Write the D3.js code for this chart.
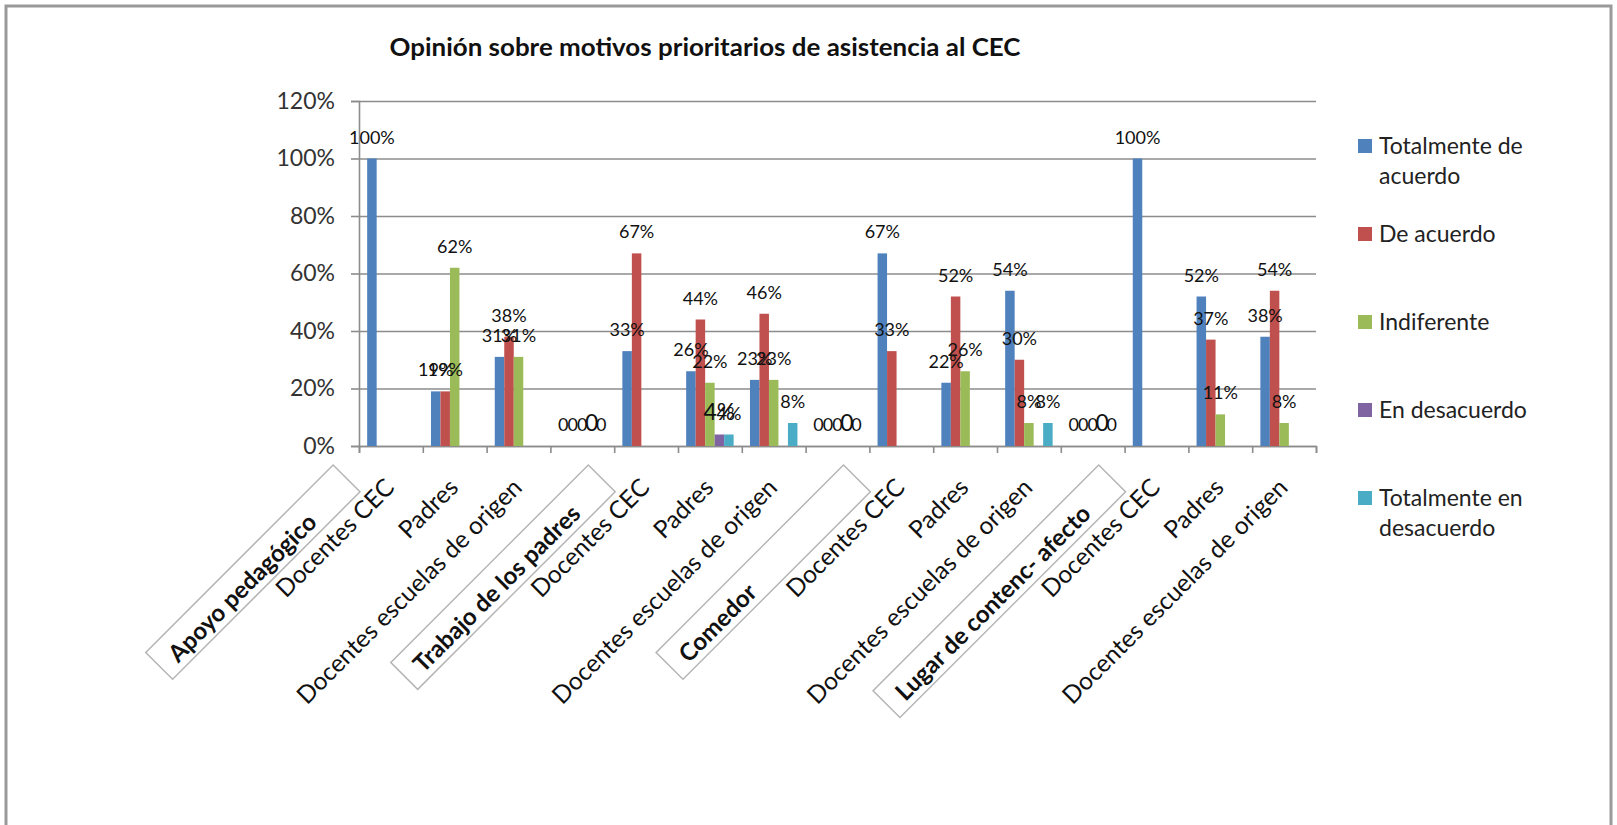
<!DOCTYPE html>
<html>
<head>
<meta charset="utf-8">
<script src="https://cdn.jsdelivr.net/npm/d3@7"></script>
<style>
  body { margin: 0; background: #fff; }
  text { font-family: Lato, "Open Sans", sans-serif; }
</style>
</head>
<body>
<div id="chart"></div>
<script>
// Chart data
const title = "Opinión sobre motivos prioritarios de asistencia al CEC";
const leadHeader = "Apoyo pedagógico";
const categories = [
    "Docentes CEC", "Padres", "Docentes escuelas de origen",
    "Trabajo de los padres",
    "Docentes CEC", "Padres", "Docentes escuelas de origen",
    "Comedor",
    "Docentes CEC", "Padres", "Docentes escuelas de origen",
    "Lugar de contenc- afecto",
    "Docentes CEC", "Padres", "Docentes escuelas de origen"
];
const isHeader = [false, false, false, true, false, false, false, true, false, false, false, true, false, false, false];

const seriesNames = ["Totalmente de acuerdo", "De acuerdo", "Indiferente", "En desacuerdo", "Totalmente en desacuerdo"];
const seriesColors = ["#4F81BD", "#C0504D", "#9BBB59", "#8064A2", "#4BACC6"];

// values in %, null = no bar / no label
const totalmenteAcuerdo   = [100, 19, 31, 0, 33, 26, 23, 0, 67, 22, 54, 0, 100, 52, 38];
const deAcuerdo           = [null, 19, 38, 0, 67, 44, 46, 0, 33, 52, 30, 0, null, 37, 54];
const indiferente         = [null, 62, 31, 0, null, 22, 23, 0, null, 26, 8, 0, null, 11, 8];
const enDesacuerdo        = [null, null, null, 0, null, 4, null, 0, null, null, null, 0, null, null, null];
const totalmenteDesacuerdo = [null, null, null, 0, null, 4, 8, 0, null, null, 8, 0, null, null, null];

const yTicks = [0, 20, 40, 60, 80, 100, 120];

const seriesValues = [totalmenteAcuerdo, deAcuerdo, indiferente, enDesacuerdo, totalmenteDesacuerdo];

const width = 1617, height = 825;
const plot = { left: 359, right: 1316, top: 101, bottom: 446 };

const svg = d3.select("#chart").append("svg")
    .attr("width", width)
    .attr("height", height);

// outer frame
svg.append("rect")
    .attr("x", 6).attr("y", 6)
    .attr("width", width - 12).attr("height", height + 20)
    .attr("fill", "none")
    .attr("stroke", "#9a9a9a")
    .attr("stroke-width", 3);

// title
svg.append("text")
    .attr("x", 705).attr("y", 56)
    .attr("text-anchor", "middle")
    .attr("font-size", "24px")
    .attr("font-weight", "bold")
    .attr("fill", "#111")
    .attr("textLength", 631)
    .attr("lengthAdjust", "spacingAndGlyphs")
    .text(title);

// scales
const x = d3.scaleBand()
    .domain(d3.range(categories.length))
    .range([plot.left, plot.right]);

const xEdges = d3.scaleLinear()
    .domain([0, categories.length])
    .range([plot.left, plot.right]);

const xs = d3.scaleBand()
    .domain(d3.range(seriesNames.length))
    .range([0, x.bandwidth()])
    .paddingInner(0)
    .paddingOuter(0.86);

const y = d3.scaleLinear()
    .domain([0, 120])
    .range([plot.bottom, plot.top]);

// gridlines
svg.append("g")
    .attr("transform", `translate(${plot.left},0)`)
    .call(d3.axisLeft(y).tickValues(yTicks).tickSize(-(plot.right - plot.left)).tickFormat(""))
    .call(g => g.select(".domain").remove())
    .call(g => g.selectAll("line").attr("stroke", "#8c8c8c").attr("stroke-width", 1.6));

// y axis
svg.append("g")
    .attr("transform", `translate(${plot.left},0)`)
    .call(d3.axisLeft(y).tickValues(yTicks).tickSize(8).tickPadding(16).tickFormat(d => d + "%"))
    .call(g => g.select(".domain").attr("stroke", "#8c8c8c").attr("stroke-width", 1.6))
    .call(g => g.selectAll("line").attr("stroke", "#8c8c8c").attr("stroke-width", 1.6))
    .call(g => g.selectAll("text")
        .attr("font-family", "Lato, sans-serif")
        .attr("font-size", "23px")
        .attr("fill", "#333"));

// x axis with ticks on category edges
svg.append("g")
    .attr("transform", `translate(0,${plot.bottom})`)
    .call(d3.axisBottom(xEdges).tickValues(d3.range(categories.length + 1)).tickSize(7).tickFormat(""))
    .call(g => g.select(".domain").attr("stroke", "#8c8c8c").attr("stroke-width", 1.6))
    .call(g => g.selectAll("line").attr("stroke", "#8c8c8c").attr("stroke-width", 1.6));

// bars
const barData = [];
seriesValues.forEach((vals, s) => {
    vals.forEach((v, i) => {
        if (v !== null) barData.push({ s, i, v });
    });
});

svg.append("g")
    .selectAll("rect")
    .data(barData.filter(d => d.v > 0))
    .join("rect")
    .attr("x", d => x(d.i) + xs(d.s))
    .attr("y", d => y(d.v))
    .attr("width", xs.bandwidth())
    .attr("height", d => y(0) - y(d.v))
    .attr("fill", d => seriesColors[d.s]);

// data labels (purple series labels are bigger in the original)
svg.append("g")
    .selectAll("text")
    .data(barData)
    .join("text")
    .attr("x", d => x(d.i) + xs(d.s) + xs.bandwidth() / 2)
    .attr("y", d => y(d.v) - 15)
    .attr("text-anchor", "middle")
    .attr("font-size", d => d.s === 3 ? "23px" : "18px")
    .attr("fill", "#111")
    .text(d => isHeader[d.i] ? "0" : d.v + "%");

// category labels
const labels = svg.append("g");
categories.forEach((c, i) => {
    if (isHeader[i]) return;
    labels.append("text")
        .attr("transform", `translate(${x(i) + x.bandwidth() / 2 + 5},${489}) rotate(-45)`)
        .attr("text-anchor", "end")
        .attr("font-size", "24.5px")
        .attr("fill", "#111")
        .text(c);
});

// boxed group headers
function headerBox(name, cx) {
    const g = svg.append("g")
        .attr("transform", `translate(${cx + 6},465) rotate(-45)`);
    const t = g.append("text")
        .attr("font-size", "24px")
        .attr("font-weight", "bold")
        .attr("fill", "#111")
        .text(name);
    const len = t.node().getComputedTextLength();
    const boxLen = Math.max(len + 55, 265);
    t.attr("x", -boxLen + 15).attr("y", 31);
    g.insert("rect", "text")
        .attr("x", -boxLen).attr("y", 0)
        .attr("width", boxLen).attr("height", 38)
        .attr("fill", "none")
        .attr("stroke", "#b5b5b5")
        .attr("stroke-width", 1.5);
}

headerBox(leadHeader, x(0) - x.bandwidth() / 2);
categories.forEach((c, i) => {
    if (isHeader[i]) headerBox(c, x(i) + x.bandwidth() / 2);
});

// legend
const legend = svg.append("g").attr("transform", "translate(1358,0)");
seriesNames.forEach((name, i) => {
    const yc = 146 + i * 88;
    legend.append("rect")
        .attr("x", 0).attr("y", yc - 7)
        .attr("width", 14).attr("height", 14)
        .attr("fill", seriesColors[i]);

    const t = legend.append("text")
        .attr("x", 21).attr("y", yc)
        .attr("font-size", "23px")
        .attr("fill", "#222");

    // simple word wrap
    const words = name.split(" ");
    let line = [];
    let tspan = t.append("tspan").attr("x", 21).attr("dy", "0.35em");
    words.forEach(w => {
        line.push(w);
        tspan.text(line.join(" "));
        if (tspan.node().getComputedTextLength() > 165 && line.length > 1) {
            line.pop();
            tspan.text(line.join(" "));
            line = [w];
            tspan = t.append("tspan").attr("x", 21).attr("dy", "30px").text(w);
        }
    });
});
</script>
</body>
</html>
